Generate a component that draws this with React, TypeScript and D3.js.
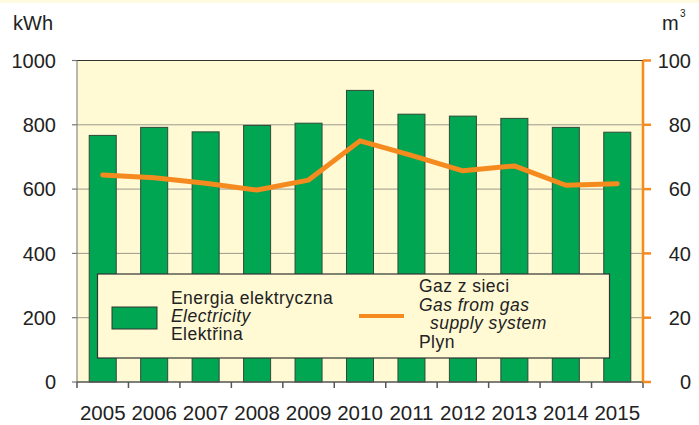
import * as d3 from "d3";

const width = 699;
const height = 425;

// values
const years = ["2005", "2006", "2007", "2008", "2009", "2010", "2011", "2012", "2013", "2014", "2015"];
const electricity = [767, 792, 778, 798, 805, 907, 833, 827, 820, 792, 777];
const gas = [64.4, 63.5, 61.8, 59.7, 62.8, 75.0, 70.5, 65.7, 67.2, 61.2, 61.7];
const kwhTicks = [0, 200, 400, 600, 800, 1000];
const gasTicks = [0, 20, 40, 60, 80, 100];

const elecLegend = ["Energia elektryczna", "Electricity", "Elektřina"];
const gasLegend = ["Gaz z sieci", "Gas from gas", "supply system", "Plyn"];

const left = 77;
const right = 643;
const top = 60.5;
const bottom = 382;

const font = "'Liberation Sans', Arial, sans-serif";
const green = "#00a651";
const orange = "#f58a1f";
const plotBg = "#fff9d4";

const App = () => {
  const x = d3.scaleBand().domain(years).range([left, right]).paddingInner(0.475).paddingOuter(0.2375);
  const step = x.step();
  const yKwh = d3.scaleLinear().domain([0, 1000]).range([bottom, top]);
  const yGas = d3.scaleLinear().domain([0, 100]).range([bottom, top]);

  const line = d3
    .line<number>()
    .x((_, i) => (x(years[i]) as number) + x.bandwidth() / 2)
    .y(d => yGas(d));

  // category boundaries for the x ticks
  const boundaries = d3.range(years.length + 1).map(i => left + i * step);

  return (
    <svg width={width} height={height} style={{ position: "absolute", left: 0, top: 0, background: "#fff" }} fontFamily={font}>
      <rect x={0} y={0} width={width} height={3} fill="#fffbe0" />

      {/* plot area */}
      <rect x={left} y={top} width={right - left} height={bottom - top} fill={plotBg} />
      {kwhTicks.slice(1, -1).map(t => (
        <line key={t} x1={left} x2={right} y1={yKwh(t)} y2={yKwh(t)} stroke="#9a9a8a" strokeWidth={1} />
      ))}
      <line x1={left} x2={right} y1={top} y2={top} stroke="#333" strokeWidth={1.2} />

      {/* bars */}
      {electricity.map((v, i) => (
        <rect
          key={years[i]}
          x={x(years[i])}
          y={yKwh(v)}
          width={x.bandwidth()}
          height={bottom - yKwh(v)}
          fill={green}
          stroke="#2f4a38"
          strokeWidth={1}
        />
      ))}

      {/* gas line */}
      <path d={line(gas) ?? ""} fill="none" stroke={orange} strokeWidth={5} strokeLinejoin="round" strokeLinecap="round" />

      {/* left axis */}
      <line x1={left} x2={left} y1={top} y2={bottom} stroke="#888" strokeWidth={1.2} />
      {kwhTicks.map(t => (
        <g key={t}>
          <line x1={left - 5} x2={left} y1={yKwh(t)} y2={yKwh(t)} stroke="#777" strokeWidth={1.2} />
          <text x={56} y={yKwh(t)} dy="0.36em" textAnchor="end" fontSize={20} fill="#222">
            {t}
          </text>
        </g>
      ))}
      <text x={13} y={30} fontSize={20} fill="#222">kWh</text>

      {/* bottom axis */}
      <line x1={left} x2={right} y1={bottom} y2={bottom} stroke="#555" strokeWidth={1.5} />
      {boundaries.map((b, i) => (
        <line key={i} x1={b} x2={b} y1={bottom} y2={bottom + 6} stroke="#555" strokeWidth={1.5} />
      ))}
      {years.map(yr => (
        <text key={yr} x={(x(yr) as number) + x.bandwidth() / 2} y={420} textAnchor="middle" fontSize={20.5} fill="#222">
          {yr}
        </text>
      ))}

      {/* right axis */}
      <line x1={right} x2={right} y1={top} y2={bottom} stroke={orange} strokeWidth={2.5} />
      {gasTicks.map(t => (
        <g key={t}>
          <line x1={right} x2={right + 8} y1={yGas(t)} y2={yGas(t)} stroke={orange} strokeWidth={2.5} />
          <text x={691} y={yGas(t)} dy="0.36em" textAnchor="end" fontSize={20} fill="#222">
            {t}
          </text>
        </g>
      ))}
      <text x={662} y={30} fontSize={20} fill="#222">m</text>
      <text x={680} y={17} fontSize={10} fill="#222">3</text>

      {/* legend */}
      <rect x={97.5} y={274} width={512} height={84} fill={plotBg} stroke="#333" strokeWidth={1.2} />
      <rect x={112} y={307} width={45} height={22} fill={green} stroke="#333" strokeWidth={1} />
      {elecLegend.map((s, i) => (
        <text
          key={s}
          x={171}
          y={304 + i * 18}
          fontSize={17.5}
          letterSpacing={0.45}
          fill="#222"
          fontStyle={i === 1 ? "italic" : "normal"}
        >
          {s}
        </text>
      ))}
      <line x1={359} x2={404} y1={316} y2={316} stroke={orange} strokeWidth={4} />
      {gasLegend.map((s, i) => (
        <text
          key={s}
          x={i === 2 ? 430 : 419}
          y={292 + i * 18.7}
          fontSize={17.5}
          letterSpacing={0.45}
          fill="#222"
          fontStyle={i === 1 || i === 2 ? "italic" : "normal"}
        >
          {s}
        </text>
      ))}
    </svg>
  );
};

export default App;
